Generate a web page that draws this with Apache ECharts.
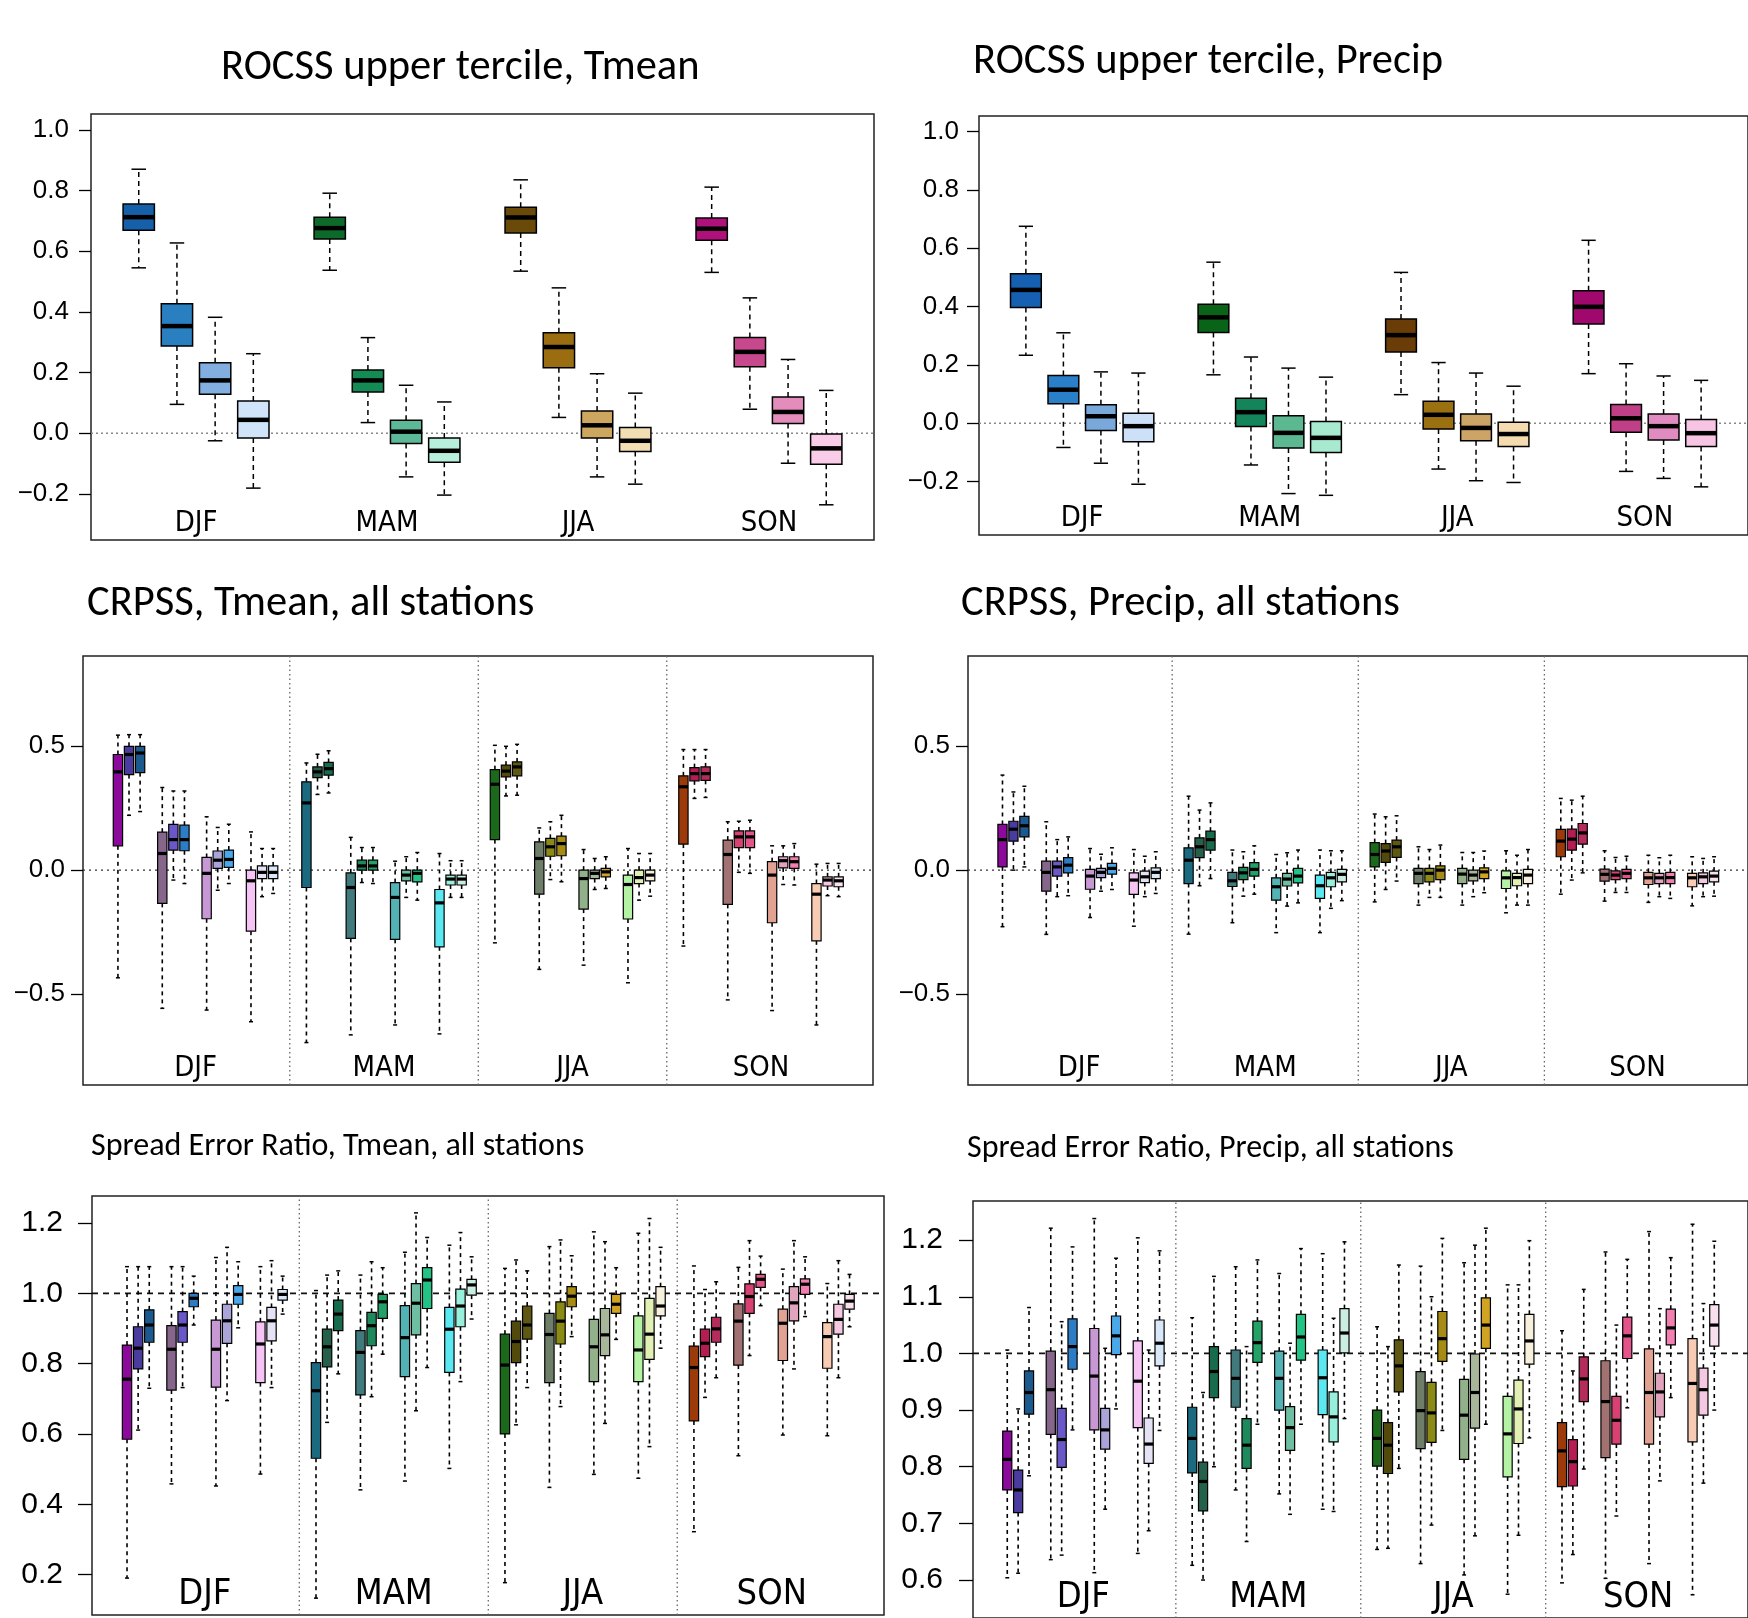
<!DOCTYPE html>
<html>
<head>
<meta charset="utf-8">
<script src="https://cdn.jsdelivr.net/npm/echarts@6/dist/echarts.min.js"></script>
<style>
  html, body { margin: 0; padding: 0; background: #fff; }
  #main { width: 1748px; height: 1618px; }
</style>
</head>
<body>
<div id="main"></div>
<script>
// seasons and tick labels
const seasons = ['DJF', 'MAM', 'JJA', 'SON'];
const rocssTicks = [-0.2, 0, 0.2, 0.4, 0.6, 0.8, 1.0];
const crpssTicks = [-0.5, 0, 0.5];
const serTmeanTicks = [0.2, 0.4, 0.6, 0.8, 1.0, 1.2];
const serPrecipTicks = [0.6, 0.7, 0.8, 0.9, 1.0, 1.1, 1.2];

// every row: [low whisker, Q1, median, Q3, high whisker]
// ROCSS upper tercile, Tmean (4 boxes per season)
const rocssTmean = [
  [0.545, 0.669, 0.712, 0.755, 0.870], [0.095, 0.287, 0.353, 0.427, 0.627],
  [-0.025, 0.128, 0.174, 0.232, 0.382], [-0.181, -0.016, 0.044, 0.106, 0.262],
  [0.537, 0.640, 0.676, 0.712, 0.791], [0.035, 0.136, 0.174, 0.208, 0.315],
  [-0.144, -0.034, 0.005, 0.043, 0.158], [-0.204, -0.096, -0.058, -0.016, 0.103],
  [0.534, 0.660, 0.711, 0.745, 0.835], [0.052, 0.216, 0.284, 0.331, 0.479],
  [-0.144, -0.016, 0.026, 0.073, 0.196], [-0.168, -0.060, -0.025, 0.019, 0.132],
  [0.530, 0.636, 0.674, 0.709, 0.811], [0.079, 0.219, 0.268, 0.315, 0.446],
  [-0.099, 0.032, 0.070, 0.119, 0.243], [-0.236, -0.102, -0.050, -0.003, 0.141]
];
// ROCSS upper tercile, Precip
const rocssPrecip = [
  [0.233, 0.397, 0.457, 0.512, 0.675], [-0.083, 0.067, 0.115, 0.164, 0.310],
  [-0.137, -0.025, 0.024, 0.063, 0.176], [-0.209, -0.063, -0.010, 0.034, 0.172],
  [0.166, 0.311, 0.363, 0.408, 0.552], [-0.143, -0.011, 0.038, 0.086, 0.227],
  [-0.241, -0.085, -0.033, 0.026, 0.189], [-0.247, -0.100, -0.050, 0.006, 0.158],
  [0.098, 0.244, 0.302, 0.357, 0.517], [-0.157, -0.020, 0.029, 0.075, 0.208],
  [-0.197, -0.060, -0.016, 0.032, 0.172], [-0.203, -0.080, -0.037, 0.003, 0.127],
  [0.170, 0.340, 0.399, 0.454, 0.627], [-0.165, -0.031, 0.017, 0.064, 0.204],
  [-0.189, -0.057, -0.010, 0.032, 0.162], [-0.218, -0.080, -0.034, 0.013, 0.147]
];
// CRPSS, Tmean (12 boxes per season, 4 triplets)
const crpssTmean = [
  [-0.434, 0.098, 0.396, 0.466, 0.544], [0.221, 0.385, 0.466, 0.499, 0.546], [0.236, 0.393, 0.472, 0.499, 0.546],
  [-0.557, -0.134, 0.067, 0.153, 0.333], [-0.040, 0.081, 0.123, 0.184, 0.319], [-0.054, 0.078, 0.123, 0.181, 0.319],
  [-0.564, -0.196, -0.013, 0.051, 0.215], [-0.081, 0.007, 0.040, 0.077, 0.172], [-0.054, 0.011, 0.043, 0.081, 0.185],
  [-0.611, -0.246, -0.043, 0.000, 0.154], [-0.107, -0.034, -0.009, 0.017, 0.087], [-0.094, -0.034, -0.009, 0.017, 0.087],
  [-0.695, -0.070, 0.271, 0.356, 0.432], [0.305, 0.373, 0.396, 0.416, 0.467], [0.311, 0.383, 0.409, 0.434, 0.481],
  [-0.664, -0.275, -0.070, -0.011, 0.132], [-0.050, 0.000, 0.017, 0.040, 0.091], [-0.054, 0.000, 0.017, 0.040, 0.091],
  [-0.624, -0.279, -0.110, -0.050, 0.036], [-0.110, -0.043, -0.020, 0.000, 0.054], [-0.121, -0.047, -0.013, 0.000, 0.071],
  [-0.660, -0.309, -0.132, -0.078, 0.067], [-0.110, -0.060, -0.036, -0.020, 0.038], [-0.110, -0.060, -0.036, -0.020, 0.038],
  [-0.293, 0.123, 0.346, 0.405, 0.503], [0.299, 0.376, 0.399, 0.423, 0.499], [0.302, 0.380, 0.416, 0.436, 0.507],
  [-0.400, -0.097, 0.047, 0.114, 0.170], [-0.038, 0.056, 0.094, 0.128, 0.195], [-0.047, 0.058, 0.107, 0.137, 0.221],
  [-0.383, -0.157, -0.034, 0.000, 0.083], [-0.078, -0.034, -0.013, 0.000, 0.047], [-0.074, -0.027, -0.007, 0.007, 0.054],
  [-0.454, -0.197, -0.058, -0.020, 0.087], [-0.121, -0.054, -0.030, 0.000, 0.067], [-0.105, -0.043, -0.020, 0.000, 0.067],
  [-0.306, 0.105, 0.336, 0.380, 0.486], [0.289, 0.360, 0.389, 0.413, 0.486], [0.293, 0.362, 0.389, 0.416, 0.486],
  [-0.523, -0.138, 0.063, 0.121, 0.195], [-0.009, 0.091, 0.134, 0.158, 0.197], [-0.013, 0.091, 0.134, 0.158, 0.201],
  [-0.566, -0.212, -0.020, 0.034, 0.098], [-0.058, 0.009, 0.038, 0.054, 0.098], [-0.060, 0.007, 0.034, 0.054, 0.107],
  [-0.624, -0.285, -0.097, -0.054, 0.024], [-0.103, -0.064, -0.040, -0.027, 0.027], [-0.107, -0.067, -0.043, -0.027, 0.027]
];
// CRPSS, Precip
const crpssPrecip = [
  [-0.228, 0.013, 0.123, 0.184, 0.383], [0.000, 0.117, 0.165, 0.197, 0.315], [0.013, 0.134, 0.179, 0.217, 0.338],
  [-0.259, -0.085, -0.009, 0.036, 0.195], [-0.107, -0.024, 0.013, 0.036, 0.123], [-0.103, -0.011, 0.020, 0.050, 0.134],
  [-0.191, -0.077, -0.024, 0.003, 0.087], [-0.085, -0.030, -0.009, 0.007, 0.064], [-0.078, -0.016, 0.007, 0.027, 0.090],
  [-0.226, -0.098, -0.040, -0.011, 0.083], [-0.107, -0.050, -0.027, -0.004, 0.056], [-0.094, -0.034, -0.009, 0.009, 0.074],
  [-0.258, -0.054, 0.040, 0.090, 0.298], [-0.063, 0.050, 0.094, 0.130, 0.242], [-0.034, 0.081, 0.123, 0.157, 0.271],
  [-0.212, -0.066, -0.043, -0.009, 0.081], [-0.105, -0.038, -0.011, 0.011, 0.074], [-0.097, -0.024, 0.003, 0.030, 0.098],
  [-0.252, -0.121, -0.067, -0.031, 0.063], [-0.145, -0.064, -0.036, -0.013, 0.070], [-0.132, -0.051, -0.024, 0.007, 0.081],
  [-0.252, -0.114, -0.063, -0.020, 0.081], [-0.154, -0.067, -0.031, -0.009, 0.078], [-0.123, -0.047, -0.017, 0.003, 0.078],
  [-0.128, 0.013, 0.063, 0.111, 0.226], [-0.078, 0.031, 0.077, 0.107, 0.215], [-0.044, 0.051, 0.094, 0.121, 0.219],
  [-0.141, -0.054, -0.013, 0.007, 0.094], [-0.110, -0.047, -0.013, 0.007, 0.083], [-0.110, -0.038, 0.000, 0.017, 0.101],
  [-0.141, -0.054, -0.016, 0.007, 0.071], [-0.107, -0.043, -0.020, 0.000, 0.071], [-0.091, -0.034, -0.007, 0.009, 0.077],
  [-0.172, -0.074, -0.031, -0.003, 0.078], [-0.141, -0.063, -0.030, -0.013, 0.060], [-0.141, -0.054, -0.020, 0.003, 0.083],
  [-0.097, 0.054, 0.117, 0.164, 0.289], [-0.040, 0.081, 0.125, 0.165, 0.282], [-0.011, 0.105, 0.150, 0.188, 0.298],
  [-0.125, -0.044, -0.017, 0.004, 0.078], [-0.090, -0.038, -0.020, -0.003, 0.051], [-0.090, -0.034, -0.013, 0.003, 0.056],
  [-0.130, -0.058, -0.031, -0.009, 0.060], [-0.107, -0.054, -0.031, -0.013, 0.050], [-0.114, -0.054, -0.030, -0.009, 0.060],
  [-0.144, -0.067, -0.031, -0.013, 0.054], [-0.107, -0.054, -0.027, -0.011, 0.047], [-0.105, -0.047, -0.024, -0.004, 0.054]
];
// Spread Error Ratio, Tmean
const serTmean = [
  [0.190, 0.585, 0.756, 0.853, 1.076], [0.611, 0.785, 0.844, 0.905, 1.076], [0.730, 0.861, 0.910, 0.953, 1.076],
  [0.458, 0.725, 0.841, 0.908, 1.076], [0.732, 0.861, 0.910, 0.948, 1.076], [0.910, 0.962, 0.986, 1.000, 1.049],
  [0.452, 0.733, 0.841, 0.924, 1.102], [0.695, 0.858, 0.922, 0.969, 1.131], [0.902, 0.969, 0.997, 1.022, 1.090],
  [0.486, 0.746, 0.856, 0.919, 1.076], [0.732, 0.865, 0.922, 0.960, 1.093], [0.941, 0.981, 0.997, 1.011, 1.049],
  [0.133, 0.531, 0.723, 0.803, 1.008], [0.633, 0.791, 0.848, 0.898, 1.052], [0.771, 0.894, 0.941, 0.981, 1.064],
  [0.441, 0.711, 0.832, 0.894, 1.052], [0.706, 0.851, 0.908, 0.946, 1.090], [0.827, 0.929, 0.976, 0.997, 1.073],
  [0.466, 0.763, 0.874, 0.965, 1.117], [0.666, 0.882, 0.972, 1.028, 1.229], [0.789, 0.957, 1.038, 1.073, 1.159],
  [0.502, 0.775, 0.898, 0.960, 1.137], [0.749, 0.905, 0.964, 1.012, 1.173], [0.927, 0.995, 1.024, 1.040, 1.104],
  [0.177, 0.600, 0.796, 0.884, 1.071], [0.626, 0.803, 0.863, 0.921, 1.095], [0.732, 0.870, 0.910, 0.964, 1.064],
  [0.448, 0.746, 0.883, 0.943, 1.133], [0.678, 0.856, 0.921, 0.976, 1.152], [0.877, 0.962, 0.992, 1.019, 1.107],
  [0.485, 0.749, 0.848, 0.926, 1.175], [0.630, 0.823, 0.882, 0.957, 1.147], [0.869, 0.943, 0.969, 0.997, 1.073],
  [0.474, 0.749, 0.839, 0.936, 1.171], [0.564, 0.812, 0.884, 0.986, 1.213], [0.844, 0.936, 0.964, 1.019, 1.131],
  [0.322, 0.637, 0.789, 0.850, 1.078], [0.704, 0.820, 0.858, 0.898, 1.011], [0.760, 0.861, 0.899, 0.932, 1.033],
  [0.538, 0.796, 0.921, 0.970, 1.074], [0.823, 0.943, 0.991, 1.027, 1.150], [0.965, 1.017, 1.040, 1.054, 1.106],
  [0.597, 0.809, 0.915, 0.955, 1.069], [0.785, 0.922, 0.973, 1.019, 1.150], [0.934, 0.997, 1.026, 1.041, 1.104],
  [0.595, 0.787, 0.877, 0.917, 1.028], [0.760, 0.884, 0.926, 0.969, 1.093], [0.905, 0.955, 0.978, 0.997, 1.054]
];
// Spread Error Ratio, Precip
const serPrecip = [
  [0.604, 0.759, 0.813, 0.863, 1.006], [0.612, 0.719, 0.759, 0.794, 0.902], [0.784, 0.893, 0.931, 0.969, 1.081],
  [0.636, 0.857, 0.936, 1.004, 1.221], [0.644, 0.799, 0.848, 0.903, 1.056], [0.865, 0.972, 1.012, 1.061, 1.188],
  [0.613, 0.865, 0.960, 1.044, 1.238], [0.725, 0.831, 0.865, 0.903, 1.009], [0.902, 0.998, 1.031, 1.066, 1.168],
  [0.647, 0.869, 0.951, 1.022, 1.204], [0.687, 0.806, 0.840, 0.886, 1.006], [0.864, 0.978, 1.018, 1.059, 1.181],
  [0.626, 0.789, 0.850, 0.905, 1.063], [0.600, 0.722, 0.774, 0.808, 0.931], [0.800, 0.922, 0.968, 1.012, 1.136],
  [0.759, 0.905, 0.956, 1.006, 1.153], [0.668, 0.797, 0.838, 0.885, 1.012], [0.875, 0.984, 1.019, 1.057, 1.165],
  [0.752, 0.900, 0.956, 1.004, 1.141], [0.716, 0.829, 0.869, 0.906, 1.018], [0.875, 0.988, 1.029, 1.069, 1.185],
  [0.725, 0.892, 0.957, 1.006, 1.176], [0.721, 0.844, 0.888, 0.932, 1.062], [0.885, 1.001, 1.036, 1.079, 1.197],
  [0.654, 0.801, 0.850, 0.900, 1.047], [0.656, 0.788, 0.838, 0.878, 1.012], [0.797, 0.932, 0.978, 1.024, 1.156],
  [0.629, 0.832, 0.899, 0.968, 1.154], [0.697, 0.843, 0.895, 0.949, 1.100], [0.864, 0.986, 1.026, 1.074, 1.203],
  [0.609, 0.813, 0.891, 0.954, 1.160], [0.678, 0.868, 0.931, 0.999, 1.191], [0.875, 1.009, 1.050, 1.098, 1.221],
  [0.575, 0.782, 0.858, 0.924, 1.121], [0.679, 0.841, 0.902, 0.953, 1.121], [0.851, 0.981, 1.022, 1.069, 1.199],
  [0.595, 0.765, 0.828, 0.878, 1.040], [0.645, 0.766, 0.809, 0.848, 0.969], [0.796, 0.915, 0.955, 0.994, 1.113],
  [0.603, 0.816, 0.915, 0.987, 1.179], [0.713, 0.840, 0.882, 0.924, 1.050], [0.904, 0.991, 1.031, 1.064, 1.166],
  [0.629, 0.840, 0.931, 1.008, 1.215], [0.775, 0.888, 0.932, 0.965, 1.079], [0.922, 1.015, 1.045, 1.078, 1.169],
  [0.574, 0.844, 0.947, 1.026, 1.228], [0.771, 0.891, 0.936, 0.974, 1.088], [0.900, 1.013, 1.050, 1.086, 1.198]
];

// colours
const rocssTmeanColors = [
  '#1560a8', '#2a7fc0', '#82aee0', '#d0e3f8',
  '#0e6a2a', '#148a55', '#5db898', '#b8eedc',
  '#6a4a08', '#9a6e10', '#cda660', '#f2deb4',
  '#b0107a', '#c8488e', '#e48cbc', '#f9cce8'
];
const rocssPrecipColors = [
  '#1660b2', '#2a80c8', '#7aa8da', '#cce0f8',
  '#0a6418', '#14845a', '#5cb890', '#a8ead0',
  '#6a3c08', '#9a7010', '#cca466', '#f5dcb0',
  '#a0086e', '#c04088', '#e08cc0', '#f8c4e4'
];
const tripletColors = [
  '#8b0a9b', '#4a3c9e', '#1b5a8e', '#86668a', '#6a58c8', '#2d7cc4', '#c898d4', '#aaa4d8', '#4aa8ea', '#f5c4f5', '#e4e2f4', '#d8e8f8',
  '#1c6a80', '#24604a', '#176c4c', '#417a7c', '#1e8a5c', '#22a266', '#52b2b4', '#6ebfa2', '#22c486', '#5ce8f0', '#98f0dc', '#cceee2',
  '#1b6a1b', '#514a0a', '#5e5812', '#6e7e68', '#8a8a14', '#a68c14', '#92b08a', '#a8b69a', '#d0a422', '#b4f2a4', '#e2f0b4', '#f6f0dc',
  '#9c3a0a', '#b41c52', '#b42c5c', '#a27272', '#d84272', '#e4548a', '#e2a292', '#e0a4bc', '#f27eb2', '#f8ccb4', '#f4c8e0', '#f8e0ee'
];

const NARROW = "'Liberation Sans Narrow', 'Arial Narrow', 'DejaVu Sans Condensed', sans-serif";
const SANS = "'Liberation Sans', Arial, Helvetica, sans-serif";
const TITLE = "Carlito, Lato, 'Open Sans', sans-serif";

const panels = [
  { title: 'ROCSS upper tercile, Tmean', tx: 221, ty: 47, tsize: 42.5,
    grid: { left: 91, top: 114, width: 783, height: 426 },
    x: [-0.25, 20.25], y: [-0.352, 1.052], ticks: rocssTicks, stats: rocssTmean, colors: rocssTmeanColors,
    per: 4, ref: 0, refStyle: { color: '#888', type: [2, 3], width: 1.4 },
    tickFont: 26, labMargin: 22, seasonFont: 29, box: { w: 0.82, cap: 0.38, med: 4.5, lw: 1.5, wl: 1.5, dash: [5, 4] } },
  { title: 'ROCSS upper tercile, Precip', tx: 973, ty: 41, tsize: 42.5,
    grid: { left: 979, top: 116, width: 771, height: 419 },
    x: [-0.25, 20.25], y: [-0.383, 1.053], ticks: rocssTicks, stats: rocssPrecip, colors: rocssPrecipColors,
    per: 4, ref: 0, refStyle: { color: '#888', type: [2, 3], width: 1.4 },
    tickFont: 26, labMargin: 20, seasonFont: 29, box: { w: 0.82, cap: 0.38, med: 4.5, lw: 1.5, wl: 1.5, dash: [5, 4] } },
  { title: 'CRPSS, Tmean, all stations', tx: 87, ty: 583, tsize: 42.5,
    grid: { left: 83, top: 656, width: 790, height: 429 },
    x: [-3.15, 68.1], y: [-0.866, 0.863], ticks: crpssTicks, stats: crpssTmean, colors: tripletColors,
    per: 12, ref: 0, refStyle: { color: '#333', type: [2, 4], width: 1.3 },
    tickFont: 26, labMargin: 18, seasonFont: 29, box: { w: 0.84, cap: 0.36, med: 3.2, lw: 1.2, wl: 1.6, dash: [4, 4] } },
  { title: 'CRPSS, Precip, all stations', tx: 961, ty: 583, tsize: 42.5,
    grid: { left: 968, top: 656, width: 792, height: 429 },
    x: [-3.15, 68.1], y: [-0.866, 0.863], ticks: crpssTicks, stats: crpssPrecip, colors: tripletColors,
    per: 12, ref: 0, refStyle: { color: '#333', type: [2, 4], width: 1.3 },
    tickFont: 26, labMargin: 18, seasonFont: 29, box: { w: 0.84, cap: 0.36, med: 3.2, lw: 1.2, wl: 1.6, dash: [4, 4] } },
  { title: 'Spread Error Ratio, Tmean, all stations', tx: 91, ty: 1131, tsize: 32,
    grid: { left: 92, top: 1196, width: 792, height: 419 },
    x: [-3.15, 68.1], y: [0.085, 1.277], ticks: serTmeanTicks, stats: serTmean, colors: tripletColors,
    per: 12, ref: 1, refStyle: { color: '#111', type: [6, 5], width: 1.6 },
    tickFont: 30, labMargin: 29, seasonFont: 36, box: { w: 0.84, cap: 0.36, med: 3.2, lw: 1.2, wl: 1.6, dash: [4, 4] } },
  { title: 'Spread Error Ratio, Precip, all stations', tx: 967, ty: 1133, tsize: 32,
    grid: { left: 973, top: 1201, width: 792, height: 417 },
    x: [-3.15, 68.1], y: [0.533, 1.269], ticks: serPrecipTicks, stats: serPrecip, colors: tripletColors,
    per: 12, ref: 1, refStyle: { color: '#111', type: [6, 5], width: 1.6 },
    tickFont: 30, labMargin: 30, seasonFont: 36, box: { w: 0.84, cap: 0.36, med: 3.2, lw: 1.2, wl: 1.6, dash: [4, 4] } }
];

function boxPos(per, i) {
  const s = Math.floor(i / per), b = i % per;
  if (per === 4) return s * 5 + b + 1;
  return s * 17 + Math.floor(b / 3) * 4 + (b % 3);
}
function seasonCenters(per) {
  return seasons.map((_, s) => per === 4 ? s * 5 + 2.5 : s * 17 + 7);
}

function makeRenderer(o) {
  return function (params, api) {
    const x = api.value(0);
    const lo = api.coord([x, api.value(1)]);
    const q1 = api.coord([x, api.value(2)]);
    const md = api.coord([x, api.value(3)]);
    const q3 = api.coord([x, api.value(4)]);
    const hi = api.coord([x, api.value(5)]);
    const bw = api.size([o.w, 0])[0];
    const cw = api.size([o.cap, 0])[0];
    const cx = md[0];
    const wStyle = { stroke: '#000', lineWidth: o.wl, lineDash: o.dash };
    const cStyle = { stroke: '#000', lineWidth: 1.5 };
    return {
      type: 'group',
      children: [
        { type: 'line', shape: { x1: cx, y1: q3[1], x2: cx, y2: hi[1] }, style: wStyle },
        { type: 'line', shape: { x1: cx, y1: q1[1], x2: cx, y2: lo[1] }, style: wStyle },
        { type: 'line', shape: { x1: cx - cw / 2, y1: hi[1], x2: cx + cw / 2, y2: hi[1] }, style: cStyle },
        { type: 'line', shape: { x1: cx - cw / 2, y1: lo[1], x2: cx + cw / 2, y2: lo[1] }, style: cStyle },
        { type: 'rect', shape: { x: cx - bw / 2, y: q3[1], width: bw, height: q1[1] - q3[1] },
          style: { fill: api.visual('color'), stroke: '#000', lineWidth: o.lw } },
        { type: 'line', shape: { x1: cx - bw / 2, y1: md[1], x2: cx + bw / 2, y2: md[1] },
          style: { stroke: '#000', lineWidth: o.med } }
      ]
    };
  };
}

const option = { animation: false, title: [], grid: [], xAxis: [], yAxis: [], series: [] };

panels.forEach((p, k) => {
  option.title.push({ text: p.title, left: p.tx, top: p.ty, padding: 0,
    textStyle: { fontFamily: TITLE, fontSize: p.tsize, fontWeight: 'normal', color: '#000' } });
  option.grid.push(Object.assign({ show: true, borderColor: '#222', borderWidth: 1.5, backgroundColor: '#fff' }, p.grid));
  const centers = seasonCenters(p.per);
  option.xAxis.push({
    type: 'value', gridIndex: k, min: p.x[0], max: p.x[1], position: 'bottom',
    axisLine: { show: false, onZero: false }, axisTick: { show: false }, splitLine: { show: false },
    axisLabel: { inside: true, margin: 2, customValues: centers, color: '#000',
      fontFamily: NARROW, fontSize: p.seasonFont,
      formatter: v => seasons[centers.indexOf(v)] || '' }
  });
  option.yAxis.push({
    type: 'value', gridIndex: k, min: p.y[0], max: p.y[1], position: 'left',
    axisLine: { show: false, onZero: false }, splitLine: { show: false },
    axisTick: { show: true, inside: false, length: p.tickFont > 28 ? 14 : 12, customValues: p.ticks,
      lineStyle: { color: '#000', width: 1.3 } },
    axisLabel: { customValues: p.ticks, margin: p.labMargin, color: '#000', fontFamily: SANS, fontSize: p.tickFont,
      formatter: v => (v < 0 ? '\u2212' : '') + Math.abs(v).toFixed(1) }
  });
  // reference line
  option.series.push({
    type: 'line', xAxisIndex: k, yAxisIndex: k, symbol: 'none', silent: true, z: 1,
    data: [[p.x[0], p.ref], [p.x[1], p.ref]], lineStyle: p.refStyle
  });
  // dotted separators between seasons
  if (p.per === 12) {
    [15.5, 32.5, 49.5].forEach(sx => {
      option.series.push({
        type: 'line', xAxisIndex: k, yAxisIndex: k, symbol: 'none', silent: true, z: 1,
        data: [[sx, p.y[0]], [sx, p.y[1]]], lineStyle: { color: '#666', type: [1.5, 3], width: 1.3 }
      });
    });
  }
  option.series.push({
    type: 'custom', xAxisIndex: k, yAxisIndex: k, z: 3,
    renderItem: makeRenderer(p.box),
    encode: { x: 0, y: 3 },
    data: p.stats.map((r, i) => ({ value: [boxPos(p.per, i)].concat(r), itemStyle: { color: p.colors[i] } }))
  });
});

const chart = echarts.init(document.getElementById('main'));
chart.setOption(option);
</script>
</body>
</html>
